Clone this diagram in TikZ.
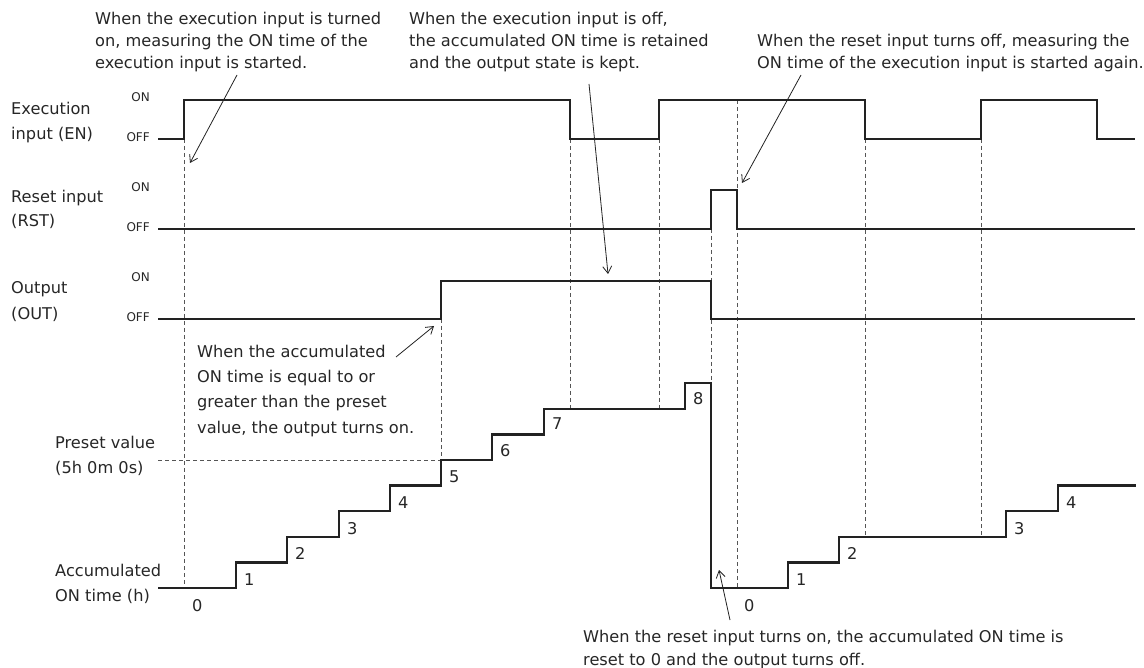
\documentclass[tikz,border=0pt]{standalone}
\usepackage{fontspec}
\setmainfont{DejaVu Sans}
\usetikzlibrary{arrows.meta}
\definecolor{ink}{HTML}{222222}
\definecolor{txt}{HTML}{262626}
\definecolor{dsh}{HTML}{555555}
\begin{document}
\begin{tikzpicture}[x=1pt,y=-1pt,
  sig/.style={line width=2.5pt, draw=ink, line join=miter},
  guide/.style={line width=0.9pt, draw=dsh, dash pattern=on 4pt off 3pt},
  ann/.style={line width=0.8pt, draw=ink, -{Straight Barb[length=7pt,width=9pt]}},
  lbl/.style={font=\fontsize{16.2}{19}\selectfont, text=txt, inner sep=0pt, anchor=base west},
  lvl/.style={font=\fontsize{12}{14}\selectfont, text=txt, inner sep=0pt, anchor=mid east}]

\useasboundingbox (0,0) rectangle (1144,668);

% guides
\draw[guide] (184,139) -- (184,588);
\draw[guide] (441,319) -- (441,460);
\draw[guide] (158,460) -- (441,460);
\draw[guide] (570,139) -- (570,408.8);
\draw[guide] (659,139) -- (659,408.8);
\draw[guide] (711,229) -- (711,383.2);
\draw[guide] (737,100) -- (737,588);
\draw[guide] (865,139) -- (865,536.8);
\draw[guide] (981,139) -- (981,536.8);

% signals
\draw[sig] (158,139) -- (184,139) -- (184,100) -- (570,100) -- (570,139) -- (659,139) -- (659,100) -- (865,100) -- (865,139) -- (981,139) -- (981,100) -- (1097,100) -- (1097,139) -- (1135,139);
\draw[sig] (158,229) -- (711,229) -- (711,190) -- (737,190) -- (737,229) -- (1135,229);
\draw[sig] (158,319) -- (441,319) -- (441,281) -- (711,281) -- (711,319) -- (1135,319);
\draw[sig] (158,588) -- (236,588) -- (236,562.4) -- (287,562.4) -- (287,536.8) -- (339,536.8) -- (339,511.2) -- (390,511.2) -- (390,485.6) -- (441,485.6) -- (441,460) -- (492,460) -- (492,434.4) -- (544,434.4) -- (544,408.8) -- (685,408.8) -- (685,383.2) -- (711,383.2) -- (711,588) -- (788,588) -- (788,562.4) -- (839,562.4) -- (839,536.8) -- (1006,536.8) -- (1006,511.2) -- (1058,511.2) -- (1058,485.6) -- (1136,485.6);

% left labels
\node[lbl] (en1) at (11,115) {Execution};
\node[lbl] (en2) at (11,140) {input (EN)};
\node[lbl] (rs1) at (11,203) {Reset input};
\node[lbl] (rs2) at (11,227) {(RST)};
\node[lbl] (ou1) at (11,294) {Output};
\node[lbl] (ou2) at (11,320) {(OUT)};
\node[lbl] (pr1) at (55,448) {Preset value};
\node[lbl] (pr2) at (55,473) {(5h 0m 0s)};
\node[lbl] (ac1) at (55,576) {Accumulated};
\node[lbl] (ac2) at (55,601) {ON time (h)};

% level labels
\node[lvl] (enon) at (150,99) {ON};
\node[lvl] (enoff) at (150,139) {OFF};
\node[lvl] (rson) at (150,189) {ON};
\node[lvl] (rsoff) at (150,229) {OFF};
\node[lvl] (ouon) at (150,279) {ON};
\node[lvl] (ouoff) at (150,319) {OFF};

% numbers
\node[lbl] (n0) at (192,611) {0};
\node[lbl] (n1) at (244,585) {1};
\node[lbl] (n2) at (295,559) {2};
\node[lbl] (n3) at (347,534) {3};
\node[lbl] (n4) at (398,508) {4};
\node[lbl] (n5) at (449,482) {5};
\node[lbl] (n6) at (500,456) {6};
\node[lbl] (n7) at (552,430) {7};
\node[lbl] (n8) at (693,405) {8};
\node[lbl] (m0) at (744,611) {0};
\node[lbl] (m1) at (796,585) {1};
\node[lbl] (m2) at (847,559) {2};
\node[lbl] (m3) at (1014,534) {3};
\node[lbl] (m4) at (1066,508) {4};

% annotations
\node[lbl] (ta1) at (95,25) {When the execution input is turned};
\node[lbl] (ta2) at (95,47) {on, measuring the ON time of the};
\node[lbl] (ta3) at (95,69) {execution input is started.};
\node[lbl] (tb1) at (409,25) {When the execution input is off,};
\node[lbl] (tb2) at (409,47) {the accumulated ON time is retained};
\node[lbl] (tb3) at (409,69) {and the output state is kept.};
\node[lbl] (tc1) at (757,47) {When the reset input turns off, measuring the};
\node[lbl] (tc2) at (757,69) {ON time of the execution input is started again.};
\node[lbl] (td1) at (197,358) {When the accumulated};
\node[lbl] (td2) at (197,383) {ON time is equal to or};
\node[lbl] (td3) at (197,408) {greater than the preset};
\node[lbl] (td4) at (197,433) {value, the output turns on.};
\node[lbl] (te1) at (583,642) {When the reset input turns on, the accumulated ON time is};
\node[lbl] (te2) at (583,665) {reset to 0 and the output turns off.};

% arrows
\coordinate (a1s) at (237,75);  \coordinate (a1e) at (190,163);
\coordinate (a2s) at (589,84);  \coordinate (a2e) at (608,274);
\coordinate (a3s) at (801,75);  \coordinate (a3e) at (742,183);
\coordinate (a4s) at (396,357); \coordinate (a4e) at (434,326);
\coordinate (a5s) at (730,620); \coordinate (a5e) at (719,570);
\draw[ann] (a1s) -- (a1e);
\draw[ann] (a2s) -- (a2e);
\draw[ann] (a3s) -- (a3e);
\draw[ann] (a4s) -- (a4e);
\draw[ann] (a5s) -- (a5e);
\end{tikzpicture}
\end{document}
